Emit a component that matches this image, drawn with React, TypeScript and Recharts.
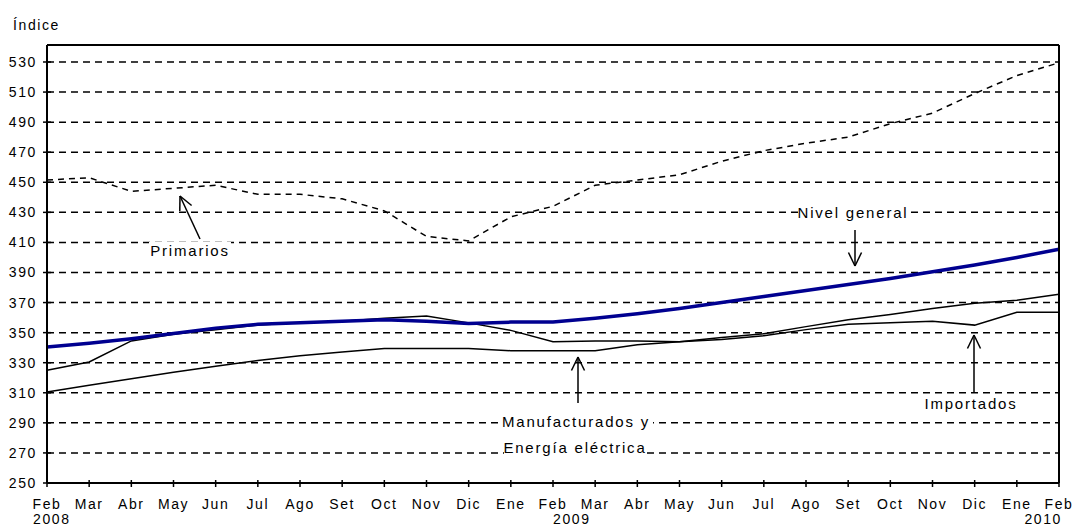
import React from "react";
import { LineChart, Line, XAxis, YAxis, CartesianGrid } from "recharts";

// Month labels, Feb 2008 .. Feb 2010
const months = [
  "Feb", "Mar", "Abr", "May", "Jun", "Jul", "Ago", "Set", "Oct", "Nov", "Dic", "Ene",
  "Feb", "Mar", "Abr", "May", "Jun", "Jul", "Ago", "Set", "Oct", "Nov", "Dic", "Ene", "Feb",
];
const years: Record<number, string> = { 0: "2008", 12: "2009", 24: "2010" };
const yTicks = [250, 270, 290, 310, 330, 350, 370, 390, 410, 430, 450, 470, 490, 510, 530];

// Series (índice)
const nivelGeneral = [
  340.5, 343, 346, 349.5, 353, 355.5, 356.5, 357.5, 358.5, 357.5, 356, 357,
  357, 359.5, 362.5, 366, 370, 374, 378, 382, 386, 390.5, 395, 400, 405.5,
];
const primarios = [
  451.5, 453, 444, 446, 448, 442, 442, 439, 431, 414, 411, 427,
  434, 448, 451.5, 455, 464, 471, 476, 480, 489, 496, 509, 521, 529.5,
];
const manufacturados = [
  310.5, 315, 319.3, 323.6, 327.7, 331.5, 334.6, 337.2, 339.5, 339.5, 339.5, 338,
  338, 338, 342, 344, 346.8, 349.3, 354, 358.5, 362, 366, 369.5, 371.5, 375.5,
];
const importados = [
  325, 330.5, 344.5, 349, 352, 355, 356.5, 357.5, 359.5, 361, 356.5, 351.5,
  344, 344.5, 344.5, 344, 345.5, 348, 352, 355.5, 356.5, 357.5, 355, 363.5, 363.5,
];

const data = months.map((m, i) => ({
  idx: i,
  month: m,
  nivel: nivelGeneral[i],
  primarios: primarios[i],
  manufacturados: manufacturados[i],
  importados: importados[i],
}));

// layout
const W = 1073;
const H = 528;
const PLOT_LEFT = 47;
const PLOT_RIGHT = 1059;
const PLOT_TOP = 45;
const PLOT_BOTTOM = 483;
const FONT = "'Liberation Sans', Arial, sans-serif";

const XTick = (props: any) => {
  const { x, payload } = props;
  const i = payload.value as number;
  const year = years[i];
  let yearX = x;
  let anchor: "start" | "end" | "middle" = "start";
  if (i === 0) yearX = x - 14;
  if (i === 24) {
    yearX = x + 3;
    anchor = "end";
  }
  return (
    <g>
      <line x1={x} x2={x} y1={PLOT_BOTTOM - 3} y2={PLOT_BOTTOM + 4} stroke="#000" strokeWidth={1.5} />
      <text x={x} y={PLOT_BOTTOM + 26} textAnchor="middle" fontSize={14} letterSpacing={1.6} fontFamily={FONT} fill="#000">
        {months[i]}
      </text>
      {year && (
        <text x={yearX} y={PLOT_BOTTOM + 41} textAnchor={anchor} fontSize={14} letterSpacing={1.6} fontFamily={FONT} fill="#000">
          {year}
        </text>
      )}
    </g>
  );
};

const YTick = (props: any) => {
  const { y, payload } = props;
  return (
    <g>
      <line x1={PLOT_LEFT - 4} x2={PLOT_LEFT + 4} y1={y} y2={y} stroke="#000" strokeWidth={1.5} />
      <text x={PLOT_LEFT - 10} y={y + 5} textAnchor="end" fontSize={14} letterSpacing={1.6} fontFamily={FONT} fill="#000">
        {payload.value}
      </text>
    </g>
  );
};

// annotation labels and arrows (pixel overlay)
const labels = [
  { text: "Primarios", cx: 190, cy: 251, w: 82 },
  { text: "Nivel general", cx: 853, cy: 213, w: 110 },
  { text: "Manufacturados y", cx: 576, cy: 422, w: 154 },
  { text: "Energía eléctrica", cx: 575, cy: 448, w: 142 },
  { text: "Importados", cx: 971, cy: 404, w: 100 },
];
const arrows = [
  { x1: 200, y1: 239, x2: 180, y2: 196 },
  { x1: 855, y1: 230, x2: 855, y2: 266 },
  { x1: 578, y1: 403, x2: 578, y2: 357 },
  { x1: 974, y1: 393, x2: 974, y2: 335 },
];

const Arrow = ({ x1, y1, x2, y2 }: { x1: number; y1: number; x2: number; y2: number }) => {
  const ang = Math.atan2(y2 - y1, x2 - x1);
  const len = 15;
  const spread = 0.45;
  const a1 = ang + Math.PI - spread;
  const a2 = ang + Math.PI + spread;
  return (
    <g stroke="#000" strokeWidth={1.5} fill="none">
      <line x1={x1} y1={y1} x2={x2} y2={y2} />
      <line x1={x2} y1={y2} x2={x2 + len * Math.cos(a1)} y2={y2 + len * Math.sin(a1)} />
      <line x1={x2} y1={y2} x2={x2 + len * Math.cos(a2)} y2={y2 + len * Math.sin(a2)} />
    </g>
  );
};

export default function App() {
  return (
    <div style={{ position: "absolute", left: 0, top: 0, width: W, height: H, background: "#fff" }}>
      <LineChart
        width={W}
        height={H}
        data={data}
        margin={{ top: PLOT_TOP, right: W - PLOT_RIGHT, bottom: 0, left: 0 }}
      >
        <CartesianGrid horizontal vertical={false} stroke="#000" strokeWidth={1.5} strokeDasharray="7 5" />
        <XAxis
          dataKey="idx"
          type="number"
          domain={[0, 24]}
          ticks={months.map((_, i) => i)}
          interval={0}
          height={H - PLOT_BOTTOM}
          axisLine={{ stroke: "#000", strokeWidth: 2 }}
          tickLine={false}
          tick={<XTick />}
        />
        <YAxis
          type="number"
          domain={[250, 541.3]}
          ticks={yTicks}
          interval={0}
          width={PLOT_LEFT}
          axisLine={{ stroke: "#000", strokeWidth: 2 }}
          tickLine={false}
          tick={<YTick />}
        />
        <Line type="linear" dataKey="primarios" stroke="#000" strokeWidth={1.5} strokeDasharray="6 5" dot={false} isAnimationActive={false} />
        <Line type="linear" dataKey="manufacturados" stroke="#000" strokeWidth={1.5} dot={false} isAnimationActive={false} />
        <Line type="linear" dataKey="importados" stroke="#000" strokeWidth={1.5} dot={false} isAnimationActive={false} />
        <Line type="linear" dataKey="nivel" stroke="#000090" strokeWidth={3.5} dot={false} isAnimationActive={false} />
      </LineChart>
      <svg
        width={W}
        height={H}
        style={{ position: "absolute", left: 0, top: 0, pointerEvents: "none" }}
      >
        <text x={13} y={30} fontSize={14} letterSpacing={1.6} fontFamily={FONT} fill="#000">
          Índice
        </text>
        <line x1={PLOT_LEFT} x2={PLOT_RIGHT} y1={PLOT_TOP} y2={PLOT_TOP} stroke="#000" strokeWidth={2} />
        <line x1={PLOT_RIGHT} x2={PLOT_RIGHT} y1={PLOT_TOP} y2={PLOT_BOTTOM} stroke="#000" strokeWidth={2} />
        {arrows.map((a, i) => (
          <Arrow key={i} {...a} />
        ))}
        {labels.map((l) => (
          <g key={l.text}>
            <rect x={l.cx - l.w / 2} y={l.cy - 9} width={l.w} height={18} fill="#fff" />
            <text x={l.cx} y={l.cy + 5} textAnchor="middle" fontSize={15} letterSpacing={1.8} fontFamily={FONT} fill="#000">
              {l.text}
            </text>
          </g>
        ))}
      </svg>
    </div>
  );
}
